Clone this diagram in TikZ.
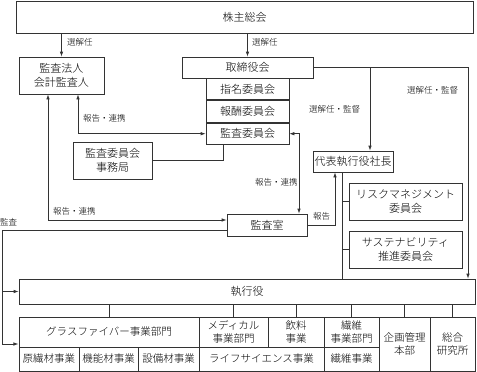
\documentclass[tikz,border=0pt]{standalone}
\usepackage{fontspec}
\setmainfont{Noto Sans CJK JP}[UprightFont={* Light}]
\usepackage{tikz}
\usetikzlibrary{arrows.meta, positioning, fit, calc}

\begin{document}
\begin{tikzpicture}[
  x=1pt, y=-1pt,
  font=\fontsize{11}{14}\selectfont,
  box/.style  ={rectangle, draw=black!80, line width=0.7pt, fill=white,
                align=center, inner sep=0pt},
  cell/.style ={box, font=\fontsize{10.5}{13}\selectfont},
  lbl/.style  ={font=\fontsize{8.5}{10}\selectfont, inner sep=1pt},
  arr/.style  ={-{Latex[length=5pt,width=3.5pt]}, draw=black!80, line width=0.7pt},
  darr/.style ={{Latex[length=5pt,width=3.5pt]}-{Latex[length=5pt,width=3.5pt]},
                draw=black!80, line width=0.7pt},
  ln/.style   ={draw=black!80, line width=0.7pt},
]
\useasboundingbox (0,0) rectangle (477,372);

% --- Top: shareholders ---
\node[box, minimum width=457pt, minimum height=32pt] (gsm) at (244.5, 17) {株主総会};

% --- Audit firm, board and committees ---
\node[box, minimum width=85pt, minimum height=37pt] (acf) at (61.5, 75.5) {監査法人\\会計監査人};
\node[box, minimum width=131pt, minimum height=21pt] (brd) at (247.5, 67.5) {取締役会};
\node[box, minimum width=83pt, minimum height=21.7pt] (nom) at (247.5, 88.9) {指名委員会};
\node[box, minimum width=83pt, minimum height=21.7pt, below=0pt of nom] (rem) {報酬委員会};
\node[box, minimum width=83pt, minimum height=21.7pt, below=0pt of rem] (aud) {監査委員会};
\node[box, minimum width=79pt, minimum height=37pt] (sec) at (112.5, 160.5) {監査委員会\\事務局};

% --- Executive side ---
\node[box, minimum width=80pt, minimum height=21pt] (ceo) at (353, 161.5) {代表執行役社長};
\node[box, minimum width=113pt, minimum height=37pt] (rsk) at (405.5, 201.5) {リスクマネジメント\\委員会};
\node[box, minimum width=113pt, minimum height=37pt] (sus) at (405.5, 249.5) {サステナビリティ\\推進委員会};
\node[box, minimum width=80pt, minimum height=22pt] (ias) at (267, 225) {監査室};
\node[box, minimum width=456pt, minimum height=25pt] (exe) at (247, 291.5) {執行役};

% --- Bottom row: divisions ---
\node[cell, minimum width=180pt, minimum height=30pt] (gfd) at (109, 332)   {グラスファイバー事業部門};
\node[cell, minimum width=69pt,  minimum height=30pt] (med) at (233.5, 332) {メディカル\\事業部門};
\node[cell, minimum width=56pt,  minimum height=30pt] (bev) at (296, 332)   {飲料\\事業};
\node[cell, minimum width=55pt,  minimum height=30pt] (fbd) at (351.5, 332) {繊維\\事業部門};
\node[cell, minimum width=51pt,  minimum height=54pt] (pln) at (404.5, 344) {企画管理\\本部};
\node[cell, minimum width=45pt,  minimum height=54pt] (lab) at (452.5, 344) {総合\\研究所};
\node[cell, minimum width=60pt,  minimum height=24pt] (raw) at (49, 359)    {原繊材事業};
\node[cell, minimum width=59pt,  minimum height=24pt] (fun) at (108.5, 359) {機能材事業};
\node[cell, minimum width=61pt,  minimum height=24pt] (eqp) at (168.5, 359) {設備材事業};
\node[cell, minimum width=125pt, minimum height=24pt] (lif) at (261.5, 359) {ライフサイエンス事業};
\node[cell, minimum width=55pt,  minimum height=24pt] (fbb) at (351.5, 359) {繊維事業};
\node[fit=(gfd)(raw)(lab), inner sep=0pt] (blk) {};

% --- Arrows ---
\draw[arr] (acf.north |- gsm.south) -- (acf.north);
\draw[arr] (brd.north |- gsm.south) -- (brd.north);
\draw[darr] ([xshift=16.5pt]acf.south) |- (aud.west);
\draw[darr] ([xshift=-13.5pt]acf.south) |- ([yshift=5pt]ias.west);
\draw[darr] (aud.east) -| ([xshift=32pt]ias.north);
\draw[ln] (sec.east) -| ([xshift=-24.5pt]aud.south);
\draw[arr] (ias.east) -| ([xshift=-18pt]ceo.south);
\draw[arr] (brd.east) -| ([xshift=221pt]exe.north);
\draw[arr] ([xshift=17pt]ceo.north |- brd.east) -- ([xshift=17pt]ceo.north);

\coordinate (spn) at ([xshift=-11pt]ceo.south);
\draw[ln] (spn) -- (spn |- exe.north);
\draw[ln] (rsk.west) -- (rsk.west -| spn);
\draw[ln] (sus.west) -- (sus.west -| spn);

\coordinate (adl) at (2, 230);
\draw[ln] ([yshift=-5pt]ias.west) -- (adl);
\draw[arr] (adl) |- (exe.west);
\draw[arr] (adl) |- (blk.west);

\foreach \c in {gfd,med,bev,fbd,pln,lab}
  \draw[ln] (exe.south -| \c.north) -- (\c.north);

% --- Labels ---
\node[lbl, anchor=west] at (66, 42)  {選解任};
\node[lbl, anchor=west] at (251, 42) {選解任};
\node[lbl, anchor=west] at (82, 118) {報告・連携};
\node[lbl, anchor=west] at (52, 211) {報告・連携};
\node[lbl, anchor=west] at (254, 182) {報告・連携};
\node[lbl, anchor=west] at (312, 216) {報告};
\node[lbl, anchor=west] at (308, 109) {選解任・監督};
\node[lbl, anchor=west] at (406, 90)  {選解任・監督};
\node[lbl, anchor=west] at (-1, 222) {監査};
\end{tikzpicture}
\end{document}
